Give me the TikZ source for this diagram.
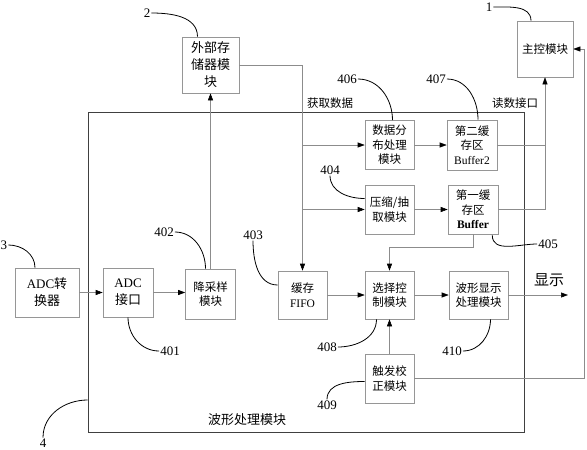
\documentclass[tikz,border=0pt]{standalone}
\usepackage{fontspec}
\setmainfont{Liberation Serif}
\newfontfamily\cjk{Noto Sans CJK SC}
\usetikzlibrary{arrows.meta,positioning,calc}
\definecolor{wire}{RGB}{140,140,140}
\definecolor{frame}{RGB}{150,150,150}

\begin{document}
\begin{tikzpicture}[x=1pt,y=1pt,
    box/.style={draw=frame,line width=0.6pt,align=center,inner sep=1pt,font=\cjk\fontsize{11.5}{14.5}\selectfont},
    bigbox/.style={font=\cjk\fontsize{13}{17}\selectfont},
    wire/.style={draw=wire,line width=0.6pt},
    arr/.style={wire,-{Triangle[length=7pt,width=5pt,color=black]}},
    tag/.style={draw=black,line width=0.8pt},
    num/.style={font=\fontsize{13}{13}\selectfont,inner sep=1pt}]
  \useasboundingbox (0,0) rectangle (587,-450);
  % outer frame
  \node[draw=black!75,line width=0.8pt,minimum width=436pt,minimum height=320pt] (proc) at (306,-272) {};
  \node[font=\cjk\fontsize{13}{13}\selectfont] (proclbl) at (247,-420) {波形处理模块};
  % modules
  \foreach \n/\x/\y/\w/\h/\s/\t in {
    ext/210.5/-65/57/56/bigbox/{外部存\\储器模\\块},
    master/545/-49/56/56/{}/{主控模块},
    dist/389.5/-145/49/49/{}/{数据分\\布处理\\模块},
    buf2/472/-145/50/50/{}/{第二缓\\存区\\\textrm{Buffer2}},
    comp/389.5/-209.5/49/49/{}/{压缩\slash 抽\\取模块},
    buf1/473/-209.5/50/49/{}/{第一缓\\存区\\\textrm{\bfseries Buffer}},
    fifo/302.5/-295/49/48/{}/{缓存\\\textrm{FIFO}},
    sel/389.5/-295/49/48/{}/{选择控\\制模块},
    disp/478.5/-295/59/48/{}/{波形显示\\处理模块},
    trig/389.5/-378.5/49/49/{}/{触发校\\正模块},
    adc/47/-292.5/64/49/bigbox/{\textrm{ADC}转\\换器},
    adcif/128/-292.5/50/49/bigbox/{\textrm{ADC}\\接口},
    down/210.5/-294/50/50/{}/{降采样\\模块}}
    \node[box,\s,minimum width=\w pt,minimum height=\h pt] (\n) at (\x,\y) {\t};
  % data paths
  \draw[arr] (adc) -- (adcif);
  \draw[arr] (adcif.east) -- (adcif.east -| down.west);
  \draw[arr] (down) -- (ext);
  \coordinate (bus) at (fifo.north |- ext.east);
  \draw[arr] (ext.east) -- (bus) -- (fifo.north);
  \draw[arr] (bus |- dist.west) -- (dist.west);
  \draw[arr] (bus |- comp.west) -- (comp.west);
  \draw[arr] (dist) -- (buf2);
  \draw[arr] (comp) -- (buf1);
  \draw[arr] (buf2.east) -| (master.south);
  \draw[wire] (buf1.east) -| (master.south |- buf2.east);
  \draw[arr] (buf1.south) -- ++(0,-13) -| (sel.north);
  \draw[arr] (fifo) -- (sel);
  \draw[arr] (sel) -- (disp);
  \coordinate (show) at (568,-295);
  \draw[arr] (disp.east) -- (show);
  \node[font=\cjk\fontsize{15}{15}\selectfont] (showlbl) at (549,-280) {显示};
  \draw[arr] (trig) -- (sel);
  \coordinate (fb) at (584,-378.5);
  \draw[arr] (trig.east) -- (fb) |- (master.east);
  \node[font=\cjk\fontsize{11.5}{11.5}\selectfont] (getlbl) at (330,-103) {获取数据};
  \node[font=\cjk\fontsize{11.5}{11.5}\selectfont] (readlbl) at (515,-103) {读数接口};
  % reference numbers
  \node[num] (n1) at (489,-7) {1};
  \draw[tag] (n1.east) to[out=0,in=90] ([xshift=-14pt]master.north);
  \node[num] (n2) at (147,-13) {2};
  \draw[tag] (n2.east) to[out=0,in=90] ([xshift=-13pt]ext.north);
  \node[num] (n3) at (4,-245) {3};
  \draw[tag] (n3.east) to[out=0,in=90] ([xshift=-12pt]adc.north);
  \node[num] (n4) at (43,-443) {4};
  \draw[tag] (n4.north) to[out=90,in=180] ([yshift=-128pt]proc.west);
  \node[num] (n401) at (170,-351) {401};
  \draw[tag] (adcif.south) to[out=-90,in=180] (n401.west);
  \node[num] (n402) at (164,-232) {402};
  \draw[tag] (n402.east) to[out=0,in=90] ([xshift=-5pt]down.north);
  \node[num] (n403) at (253,-235) {403};
  \draw[tag] (n403.south) to[out=-90,in=180] ([yshift=10pt]fifo.west);
  \node[num] (n404) at (330,-170) {404};
  \draw[tag] (n404.south) to[out=-90,in=180] ([yshift=11pt]comp.west);
  \node[num] (n405) at (548,-244) {405};
  \draw[tag] ([xshift=-6pt,yshift=-1pt]buf1.south east) to[out=-90,in=180] (n405.west);
  \node[num] (n406) at (347,-79) {406};
  \draw[tag] (n406.east) to[out=0,in=90] ([xshift=3pt]dist.north);
  \node[num] (n407) at (436,-79) {407};
  \draw[tag] (n407.east) to[out=0,in=90] ([xshift=6pt]buf2.north);
  \node[num] (n408) at (327,-347) {408};
  \draw[tag] (n408.east) to[out=0,in=-90] ([xshift=-13pt]sel.south);
  \node[num] (n409) at (327,-405) {409};
  \draw[tag] (n409.north) to[out=90,in=180] ([yshift=-3pt]trig.west);
  \node[num] (n410) at (452,-351) {410};
  \draw[tag] (n410.east) to[out=0,in=-90] ([xshift=12pt]disp.south);
\end{tikzpicture}
\end{document}
